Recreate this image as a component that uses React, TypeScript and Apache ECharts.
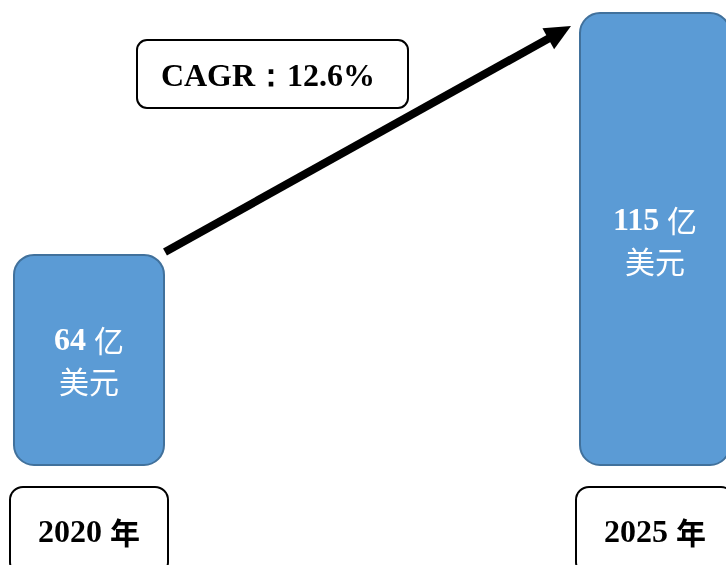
import React, { useEffect, useRef } from 'react';
import * as echarts from 'echarts';

const years = ['2020 年', '2025 年'];
const marketSize = [64, 115];
const unitTop = '亿';
const unitBottom = '美元';
const cagrLabel = 'CAGR：12.6%';

const SERIF = '"Liberation Serif", "Times New Roman", serif';
const CJK = '"Noto Sans CJK SC", sans-serif';

export default function App() {
  const ref = useRef<HTMLDivElement>(null);
  useEffect(() => {
    document.body.style.margin = '0';
    const el = ref.current!;
    const chart = echarts.init(el, null, { renderer: 'svg' });
    const barWidth = 152;
    const base = 19.3;
    chart.setOption({
      animation: false,
      grid: { left: 89, right: 71, top: 12, bottom: 99, outerBoundsMode: 'none', containLabel: false },
      xAxis: {
        type: 'category',
        data: years,
        boundaryGap: false,
        axisLine: { show: false },
        axisTick: { show: false },
        splitLine: { show: false },
        axisLabel: {
          show: true,
          interval: 0,
          margin: 22,
          hideOverlap: false,
          formatter: (v: string) => {
            const [n, c] = v.split(' ');
            return `{n|${n} }{c|${c}}`;
          },
          backgroundColor: '#fff',
          borderColor: '#000',
          borderWidth: 2,
          borderRadius: 12,
          padding: [25, 27, 25, 27],
          rich: {
            n: { fontFamily: SERIF, fontWeight: 'bold', fontSize: 32, color: '#000', lineHeight: 36 },
            c: { fontFamily: CJK, fontWeight: 'bold', fontSize: 30, color: '#000', lineHeight: 36 },
          },
        },
      },
      yAxis: {
        type: 'value',
        min: base,
        max: 115,
        startValue: base,
        show: false,
        splitLine: { show: false },
      },
      series: [
        {
          type: 'bar',
          data: marketSize,
          barWidth,
          clip: false,
          itemStyle: {
            color: '#5B9BD5',
            borderColor: '#41719C',
            borderWidth: 2,
            borderRadius: 20,
          },
          label: {
            show: true,
            position: 'inside',
            formatter: (p: any) => `{n|${p.value} }{c|${unitTop}}\n{c|${unitBottom}}`,
            rich: {
              n: { fontFamily: SERIF, fontWeight: 'bold', fontSize: 32, color: '#fff', lineHeight: 41 },
              c: { fontFamily: CJK, fontWeight: 'normal', fontSize: 30, color: '#fff', lineHeight: 41 },
            },
          },
        },
      ],
    });

    const p0 = chart.convertToPixel({ seriesIndex: 0 }, [0, marketSize[0]]) as number[];
    const p1 = chart.convertToPixel({ seriesIndex: 0 }, [1, marketSize[1]]) as number[];
    const sx = p0[0] + barWidth / 2;
    const sy = p0[1] - 2;
    const tx = p1[0] - barWidth / 2 - 8;
    const ty = p1[1] + 14;
    const dx = tx - sx;
    const dy = ty - sy;
    const len = Math.hypot(dx, dy);
    const ux = dx / len;
    const uy = dy / len;
    const nx = -uy;
    const ny = ux;
    const headLen = 26;
    const headHalf = 12;
    const bx = tx - ux * headLen;
    const by = ty - uy * headLen;

    chart.setOption({
      graphic: [
        {
          type: 'line',
          shape: { x1: sx, y1: sy, x2: bx + ux * 4, y2: by + uy * 4 },
          style: { stroke: '#000', lineWidth: 8 },
          z: 10,
        },
        {
          type: 'polygon',
          shape: {
            points: [
              [tx, ty],
              [bx + nx * headHalf, by + ny * headHalf],
              [bx - nx * headHalf, by - ny * headHalf],
            ],
          },
          style: { fill: '#000' },
          z: 10,
        },
        {
          type: 'rect',
          shape: { x: 137, y: 40, width: 271, height: 68, r: 10 },
          style: { fill: '#fff', stroke: '#000', lineWidth: 2 },
          z: 10,
        },
        {
          type: 'text',
          x: 268,
          y: 75,
          style: {
            text: cagrLabel,
            fontFamily: SERIF,
            fontWeight: 'bold',
            fontSize: 32,
            fill: '#000',
            align: 'center',
            verticalAlign: 'middle',
          },
          z: 11,
        },
      ],
    });

    return () => chart.dispose();
  }, []);
  return <div ref={ref} style={{ position: 'fixed', left: 0, top: 0, width: 726, height: 565 }} />;
}
